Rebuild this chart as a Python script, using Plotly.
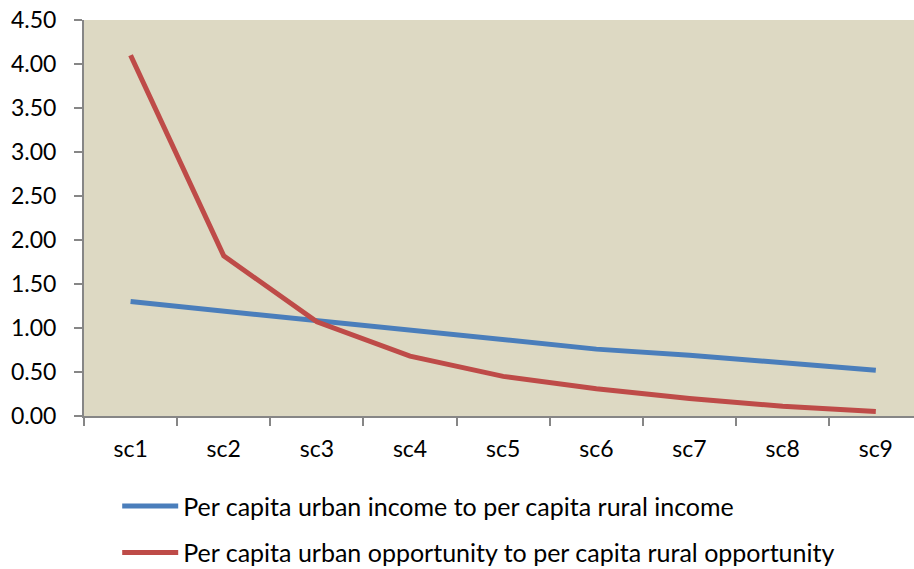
import plotly.graph_objects as go

categories = ["sc1", "sc2", "sc3", "sc4", "sc5", "sc6", "sc7", "sc8", "sc9"]
income_ratio = [1.30, 1.19, 1.08, 0.97, 0.86, 0.76, 0.69, 0.61, 0.52]
opportunity_ratio = [4.10, 1.82, 1.07, 0.68, 0.45, 0.31, 0.20, 0.11, 0.05]
y_ticks = [0, 0.5, 1, 1.5, 2, 2.5, 3, 3.5, 4, 4.5]

FONT = "Lato, 'Open Sans', sans-serif"
AXIS_GRAY = "#868686"

fig = go.Figure()
fig.add_trace(go.Scatter(
    x=categories, y=income_ratio, mode="lines",
    name="Per capita urban income to per capita rural income",
    line=dict(color="#4A7EBB", width=5), legendgroup="a",
))
fig.add_trace(go.Scatter(
    x=categories, y=opportunity_ratio, mode="lines",
    name="Per capita urban opportunity to per capita rural opportunity",
    line=dict(color="#BE4B48", width=5), legendgroup="b",
))

fig.update_layout(
    width=914, height=569,
    margin=dict(l=84, r=0, t=20, b=153, autoexpand=False),
    paper_bgcolor="white",
    plot_bgcolor="#DDD9C3",
    font=dict(family=FONT, size=23, color="black"),
    showlegend=True,
    legend=dict(
        orientation="v", x=0.04, xanchor="left", y=-0.17, yanchor="top",
        font=dict(family=FONT, size=25, color="black"),
        tracegroupgap=11, bgcolor="rgba(0,0,0,0)", itemwidth=56,
    ),
)
fig.update_xaxes(
    type="category", range=[-0.5, 8.41],
    showline=True, linecolor=AXIS_GRAY, linewidth=2,
    ticks="outside", tickson="boundaries", ticklen=8, tickcolor=AXIS_GRAY, tickwidth=2,
    ticklabelstandoff=11,
    showgrid=False, zeroline=False,
    tickfont=dict(family=FONT, size=23),
)
fig.update_yaxes(
    range=[0, 4.5], tickvals=y_ticks, ticktext=[f"{v:.2f}" for v in y_ticks],
    showline=True, linecolor=AXIS_GRAY, linewidth=2,
    ticks="outside", ticklen=8, tickcolor=AXIS_GRAY, tickwidth=2,
    ticklabelstandoff=13,
    showgrid=False, zeroline=False,
    tickfont=dict(family=FONT, size=23),
)

fig.write_html("out.html")
